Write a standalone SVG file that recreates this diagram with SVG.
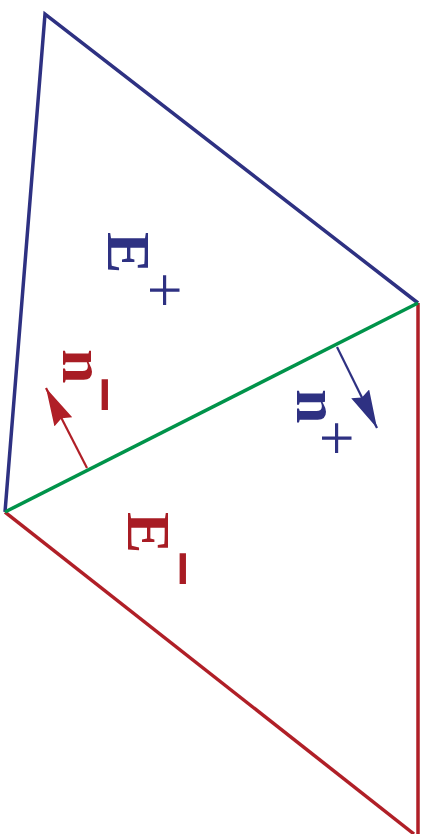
<svg xmlns="http://www.w3.org/2000/svg" width="422" height="834" viewBox="0 0 422 834">
<style>
.blue{stroke:#2e3182;fill:none;stroke-width:3.5}
.red{stroke:#b01f27;fill:none;stroke-width:3.5}
.green{stroke:#00934a;fill:none;stroke-width:3.5}
.lbl{font-family:"Liberation Serif",serif;font-weight:bold;font-size:62px}
.sup{font-family:"Liberation Serif",serif;font-size:64px}
.tb{fill:#2e3182}
.tr{fill:#a81c24}
.mn{stroke:#a81c24;stroke-width:2}
</style>
<defs>
<marker id="ahB" markerUnits="userSpaceOnUse" markerWidth="40" markerHeight="22" refX="38" refY="10" orient="auto">
<path d="M0,0 L38,10 L0,20 L4,10 Z" fill="#2e3182"/>
</marker>
<marker id="ahR" markerUnits="userSpaceOnUse" markerWidth="40" markerHeight="22" refX="38" refY="10" orient="auto">
<path d="M0,0 L38,10 L0,20 L4,10 Z" fill="#b01f27"/>
</marker>
</defs>
<g id="edges">
<polyline class="blue" points="5,512 45,14 418,303"/>
<polyline class="red" points="5,512 414,834"/>
<polyline class="red" points="418,303 418,834"/>
<line class="green" x1="5" y1="512" x2="418" y2="303"/>
<line x1="87" y1="468" x2="46" y2="388" stroke="#b01f27" stroke-width="2.2" marker-end="url(#ahR)"/>
<line x1="337" y1="347" x2="377" y2="428" stroke="#2e3182" stroke-width="2.2" marker-end="url(#ahB)"/>
</g>
<g id="Eplus">
<text class="lbl tb" x="108" y="232" transform="rotate(90 108 232)">E</text>
<text class="sup tb" x="143" y="272" transform="rotate(90 143 272)">+</text>
</g>
<g id="Eminus">
<text class="lbl tr" x="128" y="512" transform="rotate(90 128 512)">E</text>
<text class="lbl tr mn" x="162" y="551" transform="rotate(90 162 551)">−</text>
</g>
<g id="nplus">
<text class="lbl tb" x="297" y="389" transform="rotate(90 297 389)">n</text>
<text class="sup tb" x="315" y="420" transform="rotate(90 315 420)">+</text>
</g>
<g id="nminus">
<text class="lbl tr" x="63" y="349" transform="rotate(90 63 349)">n</text>
<text class="lbl tr mn" x="84" y="377" transform="rotate(90 84 377)">−</text>
</g>
</svg>
